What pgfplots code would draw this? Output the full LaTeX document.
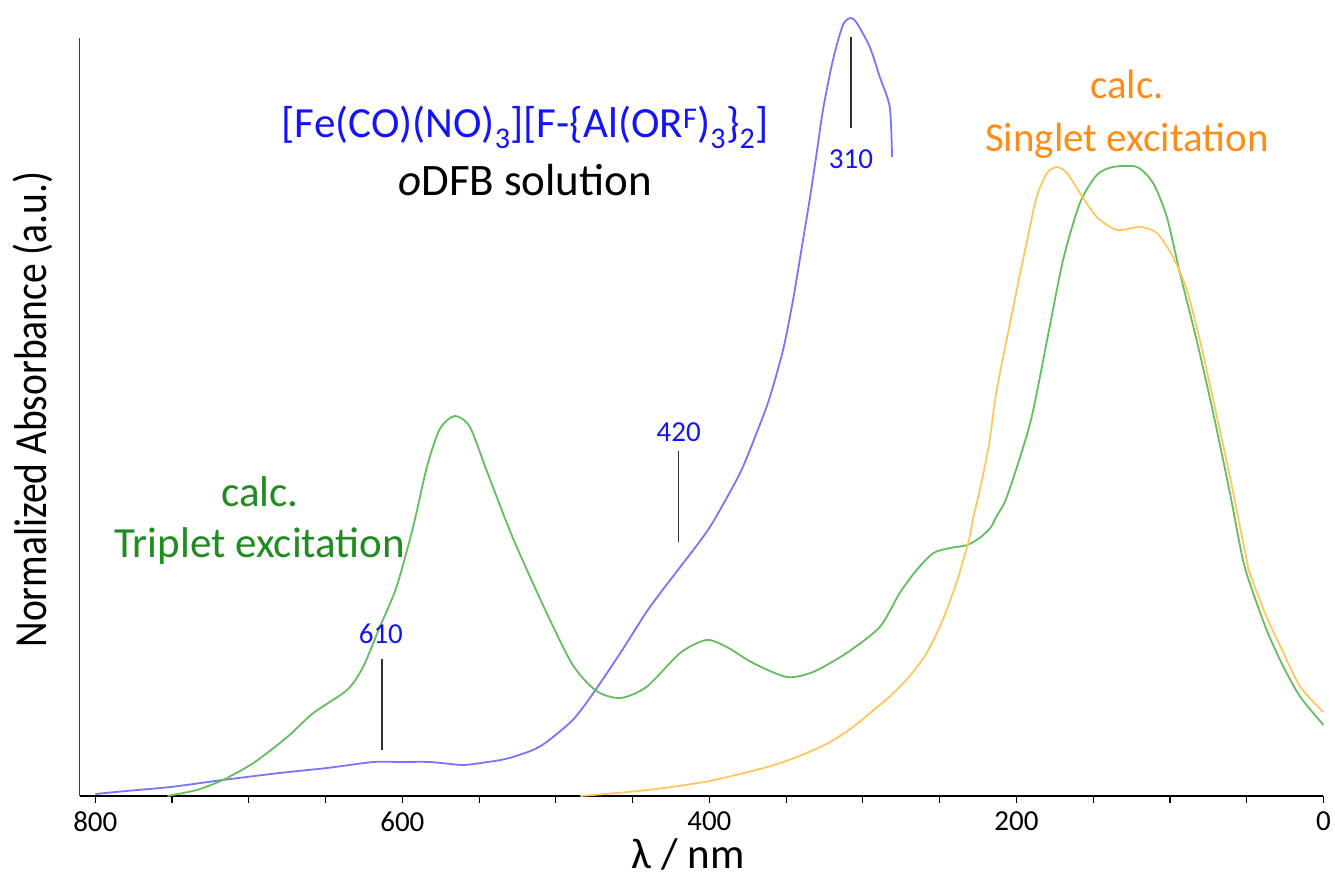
\documentclass[border=0pt]{standalone}
\usepackage{fontspec}
\setmainfont{Carlito}
\usepackage{graphicx}
\usepackage{pgfplots}
\pgfplotsset{compat=1.18}
\definecolor{blueline}{RGB}{118,118,252}
\definecolor{greenline}{RGB}{100,190,95}
\definecolor{orangeline}{RGB}{255,200,95}
\definecolor{bluetext}{RGB}{20,20,250}
\definecolor{greentext}{RGB}{30,140,30}
\definecolor{orangetext}{RGB}{255,140,20}
\definecolor{marker}{RGB}{50,50,50}
\newcommand{\fnt}[1]{\fontsize{#1bp}{#1bp}\selectfont}
\begin{document}
\begin{tikzpicture}
\path[use as bounding box] (0,0) rectangle (1335bp,877bp);
\begin{axis}[
  at={(80bp,81bp)}, anchor=south west,
  scale only axis, width=1243.5bp, height=758bp,
  x dir=reverse, xmin=0, xmax=810, ymin=0, ymax=758,
  axis x line=bottom, axis y line=left,
  x axis line style={-, black, line width=1.8bp},
  y axis line style={-, black!75, line width=1bp},
  xtick={0,50,...,800},
  xticklabels={0,,,,200,,,,400,,,,600,,,,800},
  ytick=\empty,
  tick align=outside, major tick length=7bp,
  tick style={black, line width=1.2bp},
  /pgf/number format/assume math mode=true,
  xticklabel style={font=\fnt{29}, anchor=north, yshift=-5bp},
  xlabel={λ / nm},
  xlabel style={font=\fnt{43}, at={(axis description cs:0.489,-0.095)}, anchor=base},
  ylabel={\scalebox{0.86}[1]{Normalized Absorbance (a.u.)}},
  ylabel style={font=\fnt{46}, at={(axis description cs:-0.0378,0.51)}, anchor=center, rotate=0},
  clip=false,
]
% measured spectrum (blue)
\addplot[blueline, line width=1.8bp, smooth, tension=0.45] coordinates {
(800,2) (780,5) (751,9) (717,16) (680,23) (649,28) (619,34) (602,34) (582,34)
(561,31) (549,33) (536,36) (528,39) (515,46) (506,54) (489,76) (476,102) (458,143)
(441,184) (430,207) (419,229) (408,251) (398,273) (380,323) (369,364) (361,397) (352,446)
(345.5,496) (339,556) (334.5,598) (330,644) (326,686) (319.5,736) (313,771)
(308,778) (304,773) (295.5,749) (289,719) (282.5,689) (281,639)
};
% calc. triplet (green)
\addplot[greenline, line width=1.8bp, smooth, tension=0.45] coordinates {
(753,0) (734,6) (717,16) (697,33) (675,59) (658,83) (636,106) (625.6,129)
(614.7,169) (603.8,209) (593,269) (584,329) (575.6,367) (565.8,380) (556,369)
(545,325) (528,258) (506,183) (489,131) (473.6,105) (458,98) (441,109)
(419,143) (402,156) (388.7,149) (371.6,133) (349.6,119) (332.5,124)
(310.6,143) (289,169) (276,203) (265,226) (254,243) (243,248) (232,251)
(224,258) (217,268) (212.8,280) (206,300) (191,373) (180,456) (169.6,536)
(158.6,593) (147.6,621) (137,629) (121.5,629) (111,613) (102,579) (93.5,523)
(82.6,456) (71.8,383) (60.9,303) (53,240) (48,213) (37,166) (26,129) (15,99) (0,71)
};
% calc. singlet (orange)
\addplot[orangeline, line width=1.8bp, smooth, tension=0.45] coordinates {
(484,0) (460,3) (440,6) (420,10) (400,15) (380,22) (360,30) (343,39) (325,51)
(310,65) (300,77) (289,91) (280,103) (270,119) (260,139) (254,156) (248,176)
(243,196) (238,218) (234.6,236) (231,255) (228,279) (224,305) (218,350)
(212.8,406) (202,489) (193,556) (186.8,599) (180,623) (173.6,629) (167,623)
(158.6,603) (147.6,579) (134.5,566) (119.5,569) (108.5,563) (98,539) (89,506)
(80.5,456) (71.8,396) (61,320) (50,236) (48,223) (37,179) (26,143) (15,109) (0,84)
};
% peak markers
\draw[marker, line width=1.5bp] (axis cs:613.3,137) -- (axis cs:613.3,46);
\draw[marker, line width=1.5bp] (axis cs:420,345) -- (axis cs:420,254);
\draw[marker, line width=1.5bp] (axis cs:307.8,759) -- (axis cs:307.8,668);
\node[bluetext, font=\fnt{29}] at (axis cs:614,162) {610};
\node[bluetext, font=\fnt{29}] at (axis cs:420,364) {420};
\node[bluetext, font=\fnt{29}] at (axis cs:307.8,637) {310};
% annotations
\node[bluetext, font=\fnt{43}, anchor=base] at (axis cs:520,658) {[Fe(CO)(NO)\textsubscript{3}][F-\{Al(OR\textsuperscript{F})\textsubscript{3}\}\textsubscript{2}]};
\node[black, font=\fnt{45}, anchor=base] at (axis cs:520,600) {\textit{o}DFB solution};
\node[greentext, font=\fnt{43}, anchor=base] at (axis cs:692.8,289) {calc.};
\node[greentext, font=\fnt{43}, anchor=base] at (axis cs:692.8,238) {Triplet excitation};
\node[orangetext, font=\fnt{41}, anchor=base] at (axis cs:128,697) {calc.};
\node[orangetext, font=\fnt{41}, anchor=base] at (axis cs:128,644) {Singlet excitation};
\end{axis}
\end{tikzpicture}
\end{document}
